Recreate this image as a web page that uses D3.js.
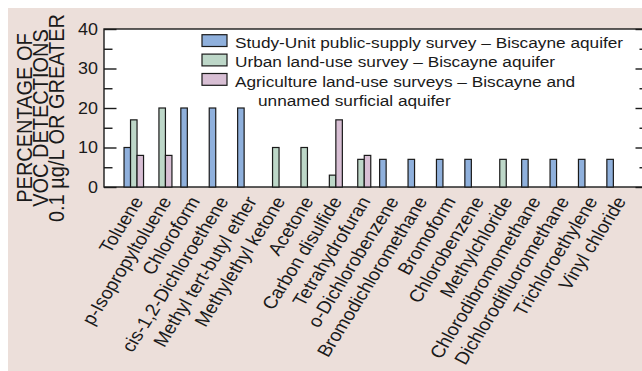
<!DOCTYPE html>
<html>
<head>
<meta charset="utf-8">
<script src="https://cdn.jsdelivr.net/npm/d3@7"></script>
<style>
  html, body { margin: 0; padding: 0; background: #ffffff; }
  svg { display: block; font-family: "Liberation Sans", Arial, Helvetica, sans-serif; }
</style>
</head>
<body>
<svg id="chart" width="642" height="371"></svg>
<script>
// Compounds detected, in plotted order
const categories = [
  "Toluene", "p-Isopropyltoluene", "Chloroform", "cis-1,2-Dichloroethene",
  "Methyl tert-butyl ether", "Methylethyl ketone", "Acetone", "Carbon disulfide",
  "Tetrahydrofuran", "o-Dichlorobenzene", "Bromodichloromethane", "Bromoform",
  "Chlorobenzene", "Methylchloride", "Chlorodibromomethane",
  "Dichlorodifluoromethane", "Trichloroethylene", "Vinyl chloride"
];

// Percentage of detections at 0.1 µg/L or greater (null = not detected)
const publicSupply = [10, null, 20, 20, 20, null, null, null, null, 7, 7, 7, 7, null, 7, 7, 7, 7];
const urbanLandUse = [17, 20, null, null, null, 10, 10, 3, 7, null, null, null, null, 7, null, null, null, null];
const agricultureLandUse = [8, 8, null, null, null, null, null, 17, 8, null, null, null, null, null, null, null, null, null];

const seriesNames = [
  ["Study-Unit public-supply survey – Biscayne aquifer"],
  ["Urban land-use survey – Biscayne aquifer"],
  ["Agriculture land-use surveys – Biscayne and", "unnamed surficial aquifer"]
];
const seriesColors = ["#8fb0dc", "#bdd7c8", "#d8bfd4"];

const yTicks = [0, 10, 20, 30, 40];
const yMinorTicks = [5, 15, 25, 35];
const yTitle = ["PERCENTAGE OF", "VOC DETECTIONS", "0.1 µg/L OR GREATER"];

const series = [publicSupply, urbanLandUse, agricultureLandUse];

const svg = d3.select("#chart");
const W = 642, H = 371;
const SX = 1.12; // wide lettering

// Panel background
svg.append("rect").attr("x", 8).attr("y", 8).attr("width", W - 8).attr("height", H - 8)
  .attr("fill", "#ecdfda");

const plot = { left: 104, right: 648, top: 29, bottom: 187 };

const y = d3.scaleLinear().domain([0, 40]).range([plot.bottom, plot.top]);
const x = d3.scaleBand().domain(categories)
  .range([119.6, 630.8]).paddingInner(0.313).paddingOuter(0.156);
const xs = d3.scaleBand().domain(d3.range(series.length)).range([0, x.bandwidth()]);

// Plot area
svg.append("rect")
  .attr("x", plot.left).attr("y", plot.top)
  .attr("width", plot.right - plot.left).attr("height", plot.bottom - plot.top)
  .attr("fill", "#ffffff").attr("stroke", "#1a1a1a").attr("stroke-width", 1.4);

// Bars
const rows = [];
categories.forEach((c, i) => {
  series.forEach((s, k) => {
    if (s[i] != null) rows.push({ c, k, v: s[i] });
  });
});
svg.append("g").selectAll("rect").data(rows).join("rect")
  .attr("x", d => x(d.c) + xs(d.k))
  .attr("y", d => y(d.v))
  .attr("width", xs.bandwidth())
  .attr("height", d => y(0) - y(d.v))
  .attr("fill", d => seriesColors[d.k])
  .attr("stroke", "#1a1a1a").attr("stroke-width", 1.2);

// Tick marks pointing into the plot on both sides
function ticks(side, values, size) {
  const ax = side === "left" ? d3.axisRight(y) : d3.axisLeft(y);
  const g = svg.append("g")
    .attr("transform", `translate(${side === "left" ? plot.left : plot.right},0)`)
    .call(ax.tickValues(values).tickSize(size).tickFormat(""));
  g.select(".domain").remove();
  g.selectAll("line").attr("stroke", "#1a1a1a").attr("stroke-width", 1.4);
}
ticks("left", yTicks, 12.5);
ticks("left", yMinorTicks, 8.5);
ticks("right", yTicks, 12.5);
ticks("right", yMinorTicks, 8.5);

svg.append("g").selectAll("text").data(yTicks).join("text")
  .attr("transform", d => `translate(98,${y(d)}) scale(${SX},1)`)
  .attr("dy", "0.36em")
  .attr("text-anchor", "end").attr("font-size", 16).attr("fill", "#1a1a1a")
  .text(d => d);

// Category labels
svg.append("g").selectAll("text").data(categories).join("text")
  .attr("transform", d => `translate(${x(d) + x.bandwidth() / 2 + 10},201) scale(${SX},1) rotate(-60.5)`)
  .attr("text-anchor", "end").attr("font-size", 17.5).attr("fill", "#1a1a1a")
  .text(d => d);

// Y axis title
const titleBaselines = [32, 48, 63.5];
yTitle.forEach((t, i) => {
  svg.append("text")
    .attr("transform", `translate(${titleBaselines[i]},118) scale(${SX},1) rotate(-90)`)
    .attr("text-anchor", "middle").attr("font-size", 20).attr("fill", "#1a1a1a")
    .text(t);
});

// Legend
const legend = svg.append("g");
seriesNames.forEach((lines, k) => {
  const top = 34.7 + k * 19.4;
  legend.append("rect")
    .attr("x", 202).attr("y", top).attr("width", 25).attr("height", 11.8)
    .attr("fill", seriesColors[k]).attr("stroke", "#1a1a1a").attr("stroke-width", 1.2);
  lines.forEach((t, j) => {
    legend.append("text")
      .attr("transform", `translate(${j === 0 ? 235 : 258},${top + 13 + j * 19.4}) scale(${SX},1)`)
      .attr("font-size", 15.4).attr("fill", "#1a1a1a")
      .text(t);
  });
});
</script>
</body>
</html>
